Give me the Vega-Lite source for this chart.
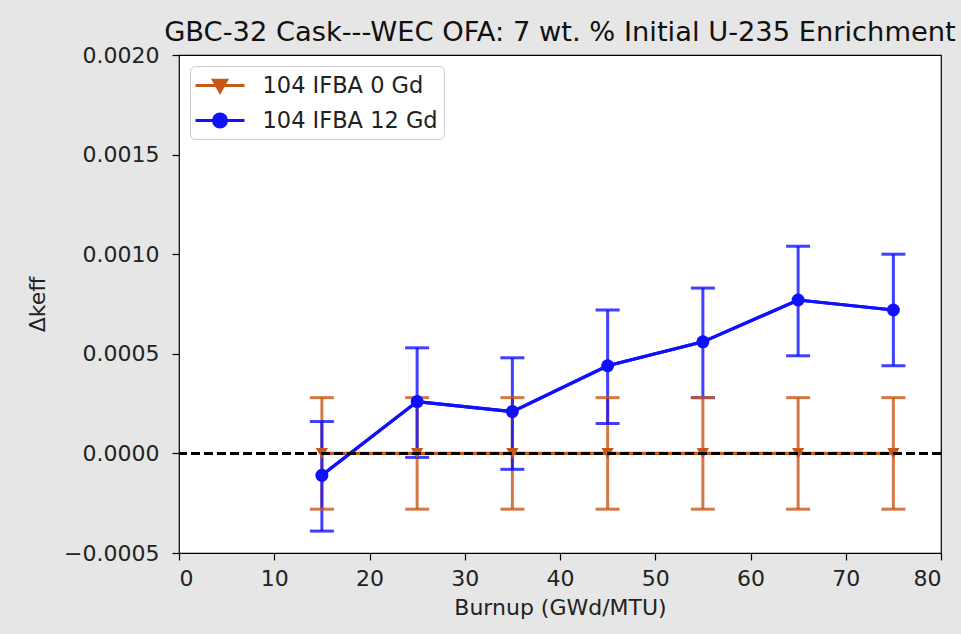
{
  "$schema": "https://vega.github.io/schema/vega-lite/v6.json",
  "autosize": {"type": "none"},
  "width": 762,
  "height": 498,
  "padding": {"left": 179, "top": 55, "right": 20, "bottom": 81},
  "background": "#e6e6e6",
  "title": {
    "text": "GBC-32 Cask---WEC OFA: 7 wt. % Initial U-235 Enrichment",
    "font": "DejaVu Sans",
    "fontSize": 27.3,
    "fontWeight": "normal",
    "color": "#111111",
    "anchor": "middle",
    "baseline": "alphabetic",
    "offset": 14,
    "dy": 38
  },
  "config": {
    "view": {"fill": "white", "stroke": "#000000", "strokeWidth": 1.2},
    "axis": {
      "grid": false,
      "domain": false,
      "tickColor": "#000000",
      "tickSize": 7,
      "tickWidth": 1.2,
      "labelFont": "DejaVu Sans",
      "labelFontSize": 22,
      "labelColor": "#222222",
      "titleFont": "DejaVu Sans",
      "titleFontSize": 22,
      "titleFontWeight": "normal",
      "titleColor": "#222222"
    },
    "legend": {
      "orient": "top-left",
      "offset": 11,
      "fillColor": "white",
      "strokeColor": "#cccccc",
      "cornerRadius": 5,
      "padding": 6,
      "symbolOffset": 10.5,
      "labelFont": "DejaVu Sans",
      "labelFontSize": 22.5,
      "labelColor": "#222222",
      "labelOffset": 29,
      "labelLimit": 400,
      "rowPadding": 9,
      "symbolSize": 576,
      "symbolStrokeWidth": 3
    }
  },
  "data": {
    "values": [
      {"series": "104 IFBA 0 Gd", "burnup": 15, "dk": 0.0, "lo": -0.00028, "hi": 0.00028},
      {"series": "104 IFBA 0 Gd", "burnup": 25, "dk": 0.0, "lo": -0.00028, "hi": 0.00028},
      {"series": "104 IFBA 0 Gd", "burnup": 35, "dk": 0.0, "lo": -0.00028, "hi": 0.00028},
      {"series": "104 IFBA 0 Gd", "burnup": 45, "dk": 0.0, "lo": -0.00028, "hi": 0.00028},
      {"series": "104 IFBA 0 Gd", "burnup": 55, "dk": 0.0, "lo": -0.00028, "hi": 0.00028},
      {"series": "104 IFBA 0 Gd", "burnup": 65, "dk": 0.0, "lo": -0.00028, "hi": 0.00028},
      {"series": "104 IFBA 0 Gd", "burnup": 75, "dk": 0.0, "lo": -0.00028, "hi": 0.00028},
      {"series": "104 IFBA 12 Gd", "burnup": 15, "dk": -0.00011, "lo": -0.00039, "hi": 0.00016},
      {"series": "104 IFBA 12 Gd", "burnup": 25, "dk": 0.00026, "lo": -0.00002, "hi": 0.00053},
      {"series": "104 IFBA 12 Gd", "burnup": 35, "dk": 0.00021, "lo": -0.00008, "hi": 0.00048},
      {"series": "104 IFBA 12 Gd", "burnup": 45, "dk": 0.00044, "lo": 0.00015, "hi": 0.00072},
      {"series": "104 IFBA 12 Gd", "burnup": 55, "dk": 0.00056, "lo": 0.00028, "hi": 0.00083},
      {"series": "104 IFBA 12 Gd", "burnup": 65, "dk": 0.00077, "lo": 0.00049, "hi": 0.00104},
      {"series": "104 IFBA 12 Gd", "burnup": 75, "dk": 0.00072, "lo": 0.00044, "hi": 0.00100}
    ]
  },
  "layer": [
    {
      "mark": {"type": "line", "strokeWidth": 3.2},
      "encoding": {
        "x": {
          "field": "burnup",
          "type": "quantitative",
          "scale": {"domain": [0, 80], "nice": false, "zero": false},
          "axis": {"values": [0, 10, 20, 30, 40, 50, 60, 70, 80], "format": "d", "title": "Burnup (GWd/MTU)", "labelPadding": 8, "titlePadding": 8}
        },
        "y": {
          "field": "dk",
          "type": "quantitative",
          "scale": {"domain": [-0.0005, 0.002], "nice": false, "zero": false},
          "axis": {"values": [-0.0005, 0, 0.0005, 0.001, 0.0015, 0.002], "format": ".4f", "title": "Δkeff", "labelPadding": 13, "titlePadding": 14}
        },
        "color": {
          "field": "series",
          "type": "nominal",
          "scale": {"domain": ["104 IFBA 0 Gd", "104 IFBA 12 Gd"], "range": ["#c8581a", "#1010ff"]},
          "legend": {
            "title": null,
            "encoding": {
              "symbols": {
                "shape": {
                  "condition": {"test": "datum.value === '104 IFBA 0 Gd'", "value": "M-2.04,0L2.04,0M-0.54,-0.44L0.54,-0.44L0,0.54Z"},
                  "value": "M-2.04,0L2.04,0M0.54,0A0.54,0.54 0 1,1 -0.54,0A0.54,0.54 0 1,1 0.54,0Z"
                },
                "fill": {
                  "condition": {"test": "datum.value === '104 IFBA 0 Gd'", "value": "#c8581a"},
                  "value": "#1010ff"
                },
                "stroke": {
                  "condition": {"test": "datum.value === '104 IFBA 0 Gd'", "value": "#c8581a"},
                  "value": "#1010ff"
                },
                "strokeWidth": {"value": 3},
                "opacity": {"value": 1},
                "fillOpacity": {"value": 1},
                "strokeOpacity": {"value": 1}
              }
            }
          }
        }
      }
    },
    {
      "mark": {"type": "rule", "strokeWidth": 3, "opacity": 0.8},
      "encoding": {
        "x": {"field": "burnup", "type": "quantitative"},
        "y": {"field": "lo", "type": "quantitative"},
        "y2": {"field": "hi"},
        "color": {"field": "series", "type": "nominal"}
      }
    },
    {
      "mark": {"type": "tick", "orient": "horizontal", "size": 24, "thickness": 3, "opacity": 0.8},
      "encoding": {
        "x": {"field": "burnup", "type": "quantitative"},
        "y": {"field": "lo", "type": "quantitative"},
        "color": {"field": "series", "type": "nominal"}
      }
    },
    {
      "mark": {"type": "tick", "orient": "horizontal", "size": 24, "thickness": 3, "opacity": 0.8},
      "encoding": {
        "x": {"field": "burnup", "type": "quantitative"},
        "y": {"field": "hi", "type": "quantitative"},
        "color": {"field": "series", "type": "nominal"}
      }
    },
    {
      "transform": [{"filter": "datum.series === '104 IFBA 0 Gd'"}],
      "mark": {"type": "point", "filled": true, "opacity": 1, "shape": "triangle-down", "size": 150},
      "encoding": {
        "x": {"field": "burnup", "type": "quantitative"},
        "y": {"field": "dk", "type": "quantitative"},
        "color": {"field": "series", "type": "nominal"}
      }
    },
    {
      "transform": [{"filter": "datum.series === '104 IFBA 12 Gd'"}],
      "mark": {"type": "line", "strokeWidth": 3.2},
      "encoding": {
        "x": {"field": "burnup", "type": "quantitative"},
        "y": {"field": "dk", "type": "quantitative"},
        "color": {"field": "series", "type": "nominal"}
      }
    },
    {
      "transform": [{"filter": "datum.series === '104 IFBA 12 Gd'"}],
      "mark": {"type": "point", "filled": true, "opacity": 1, "shape": "circle", "size": 169},
      "encoding": {
        "x": {"field": "burnup", "type": "quantitative"},
        "y": {"field": "dk", "type": "quantitative"},
        "color": {"field": "series", "type": "nominal"}
      }
    },
    {
      "mark": {"type": "rule", "color": "#000000", "opacity": 0.7, "strokeWidth": 3, "strokeDash": [9, 4]},
      "encoding": {"y": {"datum": 0}}
    }
  ]
}
